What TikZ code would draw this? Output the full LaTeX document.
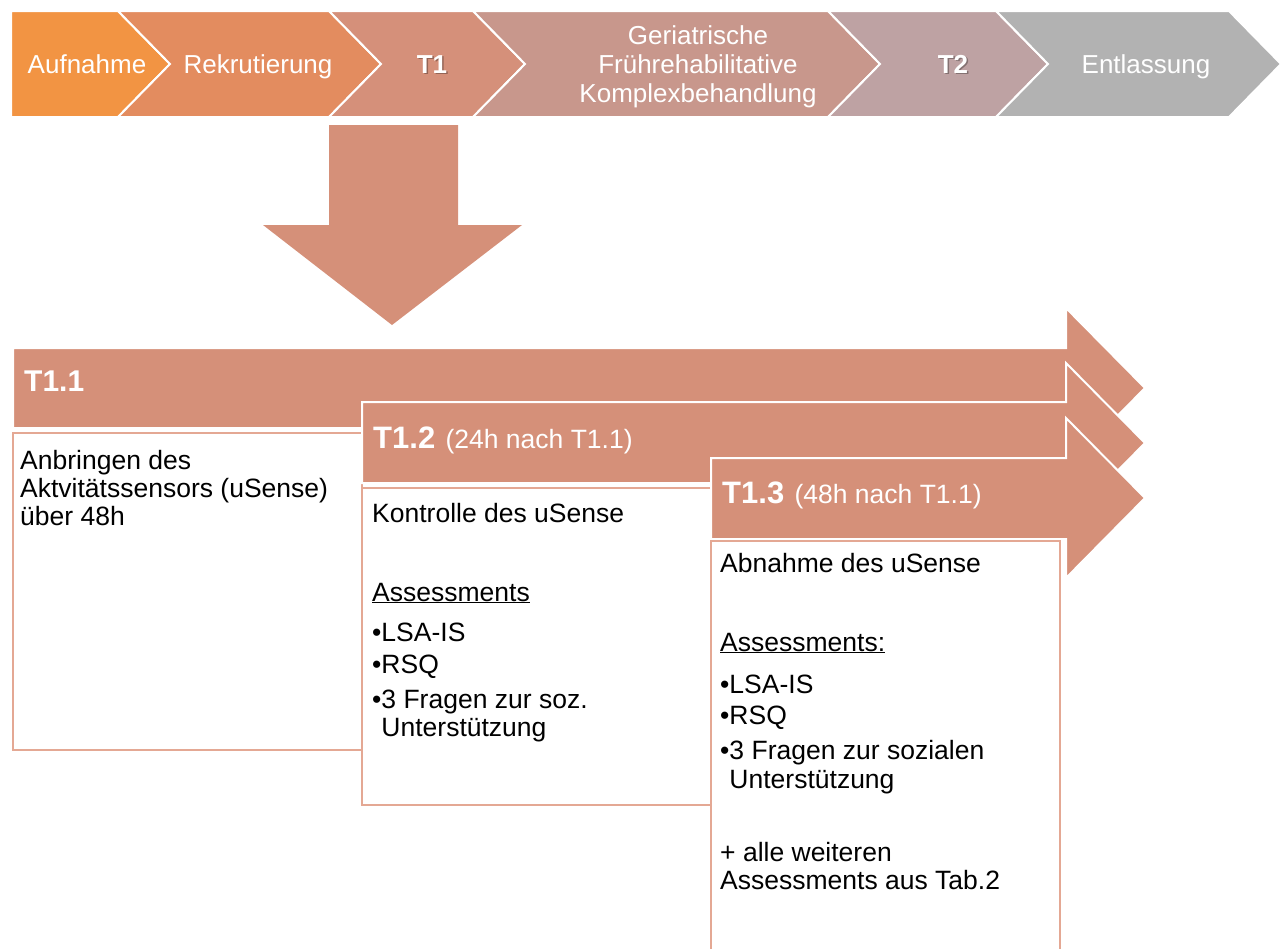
\documentclass[tikz,border=0pt]{standalone}
\usepackage{fontspec}
\setmainfont{Liberation Sans}

\definecolor{aufcol}{HTML}{F29443}
\definecolor{rekcol}{HTML}{E38C5F}
\definecolor{tonecol}{HTML}{D5907A}
\definecolor{gercol}{HTML}{C8978C}
\definecolor{ttwocol}{HTML}{BEA2A3}
\definecolor{entcol}{HTML}{B2B2B2}
\definecolor{pfeilfarbe}{HTML}{D59079}
\definecolor{kastenrand}{HTML}{E4A894}

\begin{document}
\begin{tikzpicture}[x=1pt,y=-1pt,
  chevron/.style={draw=white,line width=2pt},
  pfeil/.style={fill=pfeilfarbe,draw=white,line width=2pt},
  kasten/.style={fill=white,draw=kastenrand,line width=1.5pt},
  kopftext/.style={anchor=base,text=white,font=\fontsize{26}{29}\selectfont,align=center,inner sep=0pt},
  schatten/.style={anchor=base,text=black,opacity=.3,font=\fontsize{26}{29}\selectfont\bfseries,inner sep=0pt},
  marke/.style={anchor=base west,inner sep=0pt,text=white,font=\fontsize{26.5}{30}\selectfont},
  zeile/.style={anchor=base west,inner sep=0pt,font=\fontsize{26.5}{30}\selectfont}]

\useasboundingbox (0,0) rectangle (1281,948);
\clip (0,0) rectangle (1281,948);

\pgfmathsetmacro{\tiefe}{52}

% Ablauf oben
\draw[chevron,fill=aufcol] (11,11) -- (118,11) -- ++(\tiefe,53) -- (118,117) -- (11,117) -- cycle;
\draw[chevron,fill=rekcol] (118,11) -- (329,11) -- ++(\tiefe,53) -- (329,117) -- (118,117) -- ++(\tiefe,-53) -- cycle;
\draw[chevron,fill=tonecol] (329,11) -- (473,11) -- ++(\tiefe,53) -- (473,117) -- (329,117) -- ++(\tiefe,-53) -- cycle;
\draw[chevron,fill=gercol] (473,11) -- (828,11) -- ++(\tiefe,53) -- (828,117) -- (473,117) -- ++(\tiefe,-53) -- cycle;
\draw[chevron,fill=ttwocol] (828,11) -- (996,11) -- ++(\tiefe,53) -- (996,117) -- (828,117) -- ++(\tiefe,-53) -- cycle;
\draw[chevron,fill=entcol] (996,11) -- (1229,11) -- ++(\tiefe,53) -- (1229,117) -- (996,117) -- ++(\tiefe,-53) -- cycle;

\node[kopftext] (aufnahme) at (87,73) {Aufnahme};
\node[kopftext] (rekrut) at (258,73) {Rekrutierung};
\node[schatten] (tschatten) at (433.5,74.5) {T1};
\node[kopftext,font=\fontsize{26}{29}\selectfont\bfseries] (tone) at (432,73) {T1};
\node[kopftext,anchor=center] (gfk) at (698,67) {Geriatrische\\Frührehabilitative\\Komplexbehandlung};
\node[schatten] (tzschatten) at (954.5,74.5) {T2};
\node[kopftext,font=\fontsize{26}{29}\selectfont\bfseries] (ttwo) at (953,73) {T2};
\node[kopftext] (entlassung) at (1146,73) {Entlassung};

% grosser Pfeil nach unten
\draw[fill=pfeilfarbe,draw=none] (329,125) -- (458,125) -- (458,225) -- (522,225) -- (392,325) -- (263,225) -- (329,225) -- cycle;

% T1.1
\draw[pfeil] (13,348) -- (1066,348) -- (1066,308) -- (1145,388) -- (1066,468) -- (1066,428) -- (13,428) -- cycle;
\draw[kasten] (13,433) rectangle (362,750);
\node[marke] (teinseins) at (24,391) {\bfseries\fontsize{30}{30}\selectfont T1.1};
\node[zeile] (anbr1) at (20,469) {Anbringen des};
\node[zeile] (anbr2) at (20,497) {Aktvitätssensors (uSense)};
\node[zeile] (anbr3) at (20,525) {über 48h};

% T1.2
\draw[pfeil] (362,402) -- (1066,402) -- (1066,363) -- (1145,443) -- (1066,523) -- (1066,483) -- (362,483) -- cycle;
\draw[kasten] (362,488) rectangle (711,805);
\node[marke] (teinszwei) at (373,448) {{\bfseries\fontsize{31}{30}\selectfont T1.2}\hspace{3pt} (24h nach T1.1)};
\node[zeile] (kontr) at (372,522) {Kontrolle des uSense};
\node[zeile] (ass1) at (372,601) {\underline{Assessments}};
\node[zeile] (lsa1) at (372,641) {•LSA-IS};
\node[zeile] (rsq1) at (372,673) {•RSQ};
\node[zeile] (frag1) at (372,708) {•3 Fragen zur soz.};
\node[zeile] (unt1) at (372,736) {\hphantom{•}Unterstützung};

% T1.3
\draw[pfeil] (711,458) -- (1066,458) -- (1066,418) -- (1145,498) -- (1066,578) -- (1066,539) -- (711,539) -- cycle;
\draw[kasten] (711,541) rectangle (1060,960);
\node[marke] (teinsdrei) at (722,503) {{\bfseries\fontsize{31}{30}\selectfont T1.3}\hspace{3pt} (48h nach T1.1)};
\node[zeile] (abn) at (720,572) {Abnahme des uSense};
\node[zeile] (ass2) at (720,651) {\underline{Assessments:}};
\node[zeile] (lsa2) at (720,693) {•LSA-IS};
\node[zeile] (rsq2) at (720,724) {•RSQ};
\node[zeile] (frag2) at (720,759) {•3 Fragen zur sozialen};
\node[zeile] (unt2) at (720,788) {\hphantom{•}Unterstützung};
\node[zeile] (weit1) at (720,861) {+ alle weiteren};
\node[zeile] (weit2) at (720,889) {Assessments aus Tab.2};

\end{tikzpicture}
\end{document}
